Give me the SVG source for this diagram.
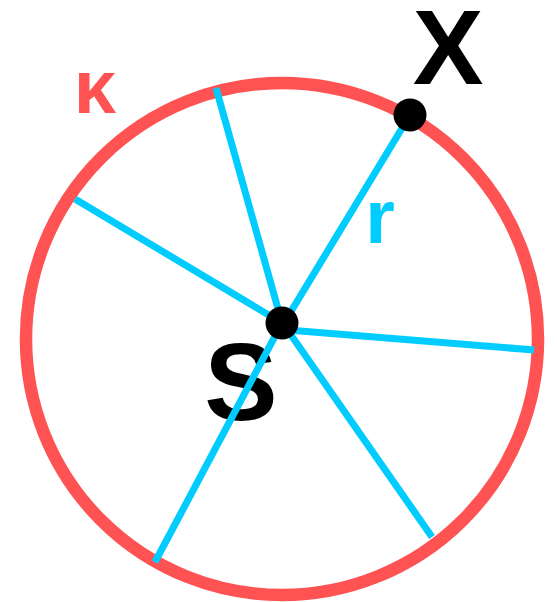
<svg xmlns="http://www.w3.org/2000/svg" width="557" height="602" viewBox="0 0 557 602">
<style>
.ray{stroke:#00CCFF;stroke-width:7;fill:none}
.lbl{font-family:"Liberation Sans",Arial,sans-serif;font-weight:bold}
</style>
<rect width="557" height="602" fill="#ffffff"/>
<g id="circle-k">
<circle cx="282" cy="339" r="256" fill="none" stroke="#FF5252" stroke-width="12.5"/>
<text class="lbl" x="95" y="113" font-size="76" fill="#FF5252" text-anchor="middle">κ</text>
</g>
<g id="label-S">
<text class="lbl" x="241" y="420" font-size="110" fill="#000000" text-anchor="middle">S</text>
</g>
<g id="connectors">
<line class="ray" x1="282" y1="323" x2="216" y2="88"/>
<line class="ray" x1="282" y1="323" x2="75" y2="199"/>
<line class="ray" x1="284" y1="323" x2="410" y2="115"/>
<line class="ray" x1="288" y1="330" x2="534" y2="350"/>
<line class="ray" x1="282" y1="323" x2="155" y2="562"/>
<line class="ray" x1="284" y1="325" x2="432" y2="537"/>
</g>
<g id="label-r">
<text class="lbl" x="380" y="243" font-size="76" fill="#00CCFF" text-anchor="middle">r</text>
</g>
<g id="point-S">
<circle cx="282" cy="323" r="16.5" fill="#000000"/>
</g>
<g id="point-X">
<circle cx="410" cy="115" r="16.5" fill="#000000"/>
<text class="lbl" x="448" y="84" font-size="106" fill="#000000" text-anchor="middle">X</text>
</g>
</svg>
